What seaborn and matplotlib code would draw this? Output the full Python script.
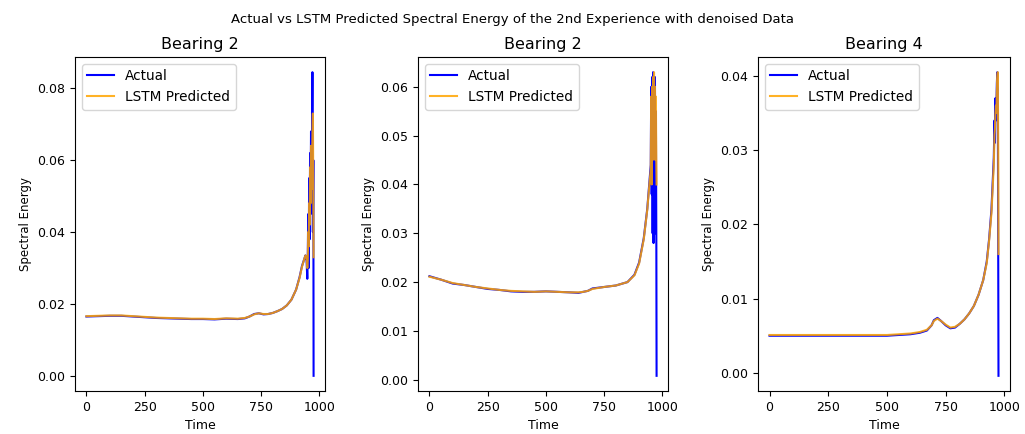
import matplotlib
matplotlib.use("Agg")
import matplotlib.pyplot as plt
import seaborn as sns
import numpy as np

# ---------------- data ----------------
titles = ["Bearing 2", "Bearing 2", "Bearing 4"]
yticks = [[0.00, 0.02, 0.04, 0.06, 0.08],
          [0.00, 0.01, 0.02, 0.03, 0.04, 0.05, 0.06],
          [0.00, 0.01, 0.02, 0.03, 0.04]]
xticks = [0, 250, 500, 750, 1000]

t1 = [0, 50, 100, 150, 200, 250, 300, 350, 400, 450, 500, 550, 600, 650, 680, 700, 720, 740,
      760, 780, 800, 820, 840, 860, 880, 900, 915, 925, 935, 940, 945, 948, 950, 952, 954,
      956, 958, 960, 962, 964, 966, 968, 970, 972, 974, 975]
act1 = [0.0165, 0.0166, 0.0167, 0.0167, 0.0165, 0.0163, 0.0161, 0.0160, 0.0159, 0.0158, 0.0158,
        0.0157, 0.0159, 0.0158, 0.0160, 0.0165, 0.0172, 0.0174, 0.0171, 0.0172, 0.0175, 0.0180,
        0.0186, 0.0196, 0.0212, 0.0240, 0.0275, 0.0305, 0.0325, 0.0335, 0.0320, 0.0270, 0.0330,
        0.0450, 0.0300, 0.0550, 0.0380, 0.0620, 0.0450, 0.0680, 0.0500, 0.0630, 0.0845, 0.0400,
        0.0600, 0.0000]
pred1 = [0.0166, 0.0167, 0.0168, 0.0168, 0.0166, 0.0164, 0.0162, 0.0161, 0.0160, 0.0159, 0.0159,
         0.0158, 0.0160, 0.0159, 0.0161, 0.0165, 0.0171, 0.0174, 0.0172, 0.0172, 0.0175, 0.0180,
         0.0186, 0.0196, 0.0212, 0.0240, 0.0273, 0.0303, 0.0325, 0.0335, 0.0330, 0.0300, 0.0320,
         0.0400, 0.0360, 0.0480, 0.0420, 0.0580, 0.0480, 0.0640, 0.0520, 0.0600, 0.0660, 0.0730,
         0.0500, 0.0330]

t2 = [0, 50, 100, 150, 200, 250, 300, 350, 400, 450, 500, 550, 600, 640, 660, 680, 700, 750,
      800, 850, 880, 900, 920, 935, 945, 950, 952, 954, 956, 958, 960, 962, 964, 966, 968, 970,
      972, 974, 975]
act2 = [0.0212, 0.0205, 0.0197, 0.0194, 0.0190, 0.0186, 0.0184, 0.0181, 0.0180, 0.0180, 0.0181,
        0.0180, 0.0179, 0.0178, 0.0180, 0.0182, 0.0187, 0.0190, 0.0193, 0.0200, 0.0215, 0.0240,
        0.0290, 0.0350, 0.0410, 0.0440, 0.0600, 0.0380, 0.0620, 0.0300, 0.0630, 0.0280, 0.0580,
        0.0350, 0.0620, 0.0300, 0.0550, 0.0280, 0.0008]
pred2 = [0.0211, 0.0205, 0.0198, 0.0194, 0.0190, 0.0187, 0.0184, 0.0182, 0.0181, 0.0180, 0.0181,
         0.0180, 0.0179, 0.0179, 0.0180, 0.0182, 0.0186, 0.0190, 0.0193, 0.0200, 0.0214, 0.0238,
         0.0288, 0.0348, 0.0405, 0.0430, 0.0580, 0.0400, 0.0600, 0.0450, 0.0620, 0.0480, 0.0630,
         0.0500, 0.0600, 0.0450, 0.0580, 0.0440, 0.0400]

t3 = [0, 100, 200, 300, 400, 500, 550, 600, 640, 670, 690, 700, 715, 730, 750, 770, 790, 810,
      830, 850, 870, 890, 910, 925, 935, 945, 955, 958, 960, 962, 964, 966, 968, 970, 972, 974,
      975]
act3 = [0.0050, 0.0050, 0.0050, 0.0050, 0.0050, 0.0050, 0.0051, 0.0052, 0.0054, 0.0057, 0.0064,
        0.0071, 0.0074, 0.0070, 0.0064, 0.0060, 0.0061, 0.0066, 0.0072, 0.0080, 0.0090, 0.0105,
        0.0125, 0.0150, 0.0180, 0.0220, 0.0290, 0.0340, 0.0310, 0.0370, 0.0340, 0.0360, 0.0390,
        0.0405, 0.0380, 0.0140, -0.0004]
pred3 = [0.0051, 0.0051, 0.0051, 0.0051, 0.0051, 0.0051, 0.0052, 0.0053, 0.0055, 0.0058, 0.0064,
         0.0070, 0.0073, 0.0070, 0.0065, 0.0061, 0.0062, 0.0066, 0.0072, 0.0080, 0.0090, 0.0105,
         0.0125, 0.0148, 0.0178, 0.0215, 0.0280, 0.0320, 0.0330, 0.0350, 0.0360, 0.0350, 0.0380,
         0.0395, 0.0405, 0.0300, 0.0160]

times = [t1, t2, t3]
actuals = [act1, act2, act3]
preds = [pred1, pred2, pred3]

# ---------------- plot ----------------
W, H = 1025, 434
fig = plt.figure(figsize=(W / 100, H / 100), dpi=100)
boxes = [(75, 250), (418, 250), (758, 252)]
top, bottom = 57, 391

for i, (left, width) in enumerate(boxes):
    ax = fig.add_axes([left / W, (H - bottom) / H, width / W, (bottom - top) / H])
    sns.lineplot(x=times[i], y=actuals[i], ax=ax, color="blue", linewidth=1.5,
                 label="Actual", estimator=None, sort=False)
    sns.lineplot(x=times[i], y=preds[i], ax=ax, color="orange", linewidth=1.5, alpha=0.85,
                 label="LSTM Predicted", estimator=None, sort=False)
    ax.set_title(titles[i], fontsize=11.5)
    ax.set_xlabel("Time", fontsize=9)
    ax.set_ylabel("Spectral Energy", fontsize=8.5)
    ax.tick_params(labelsize=9)
    ax.set_xticks(xticks)
    ax.set_yticks(yticks[i])
    ax.set_xlim(-49, 1024)
    ax.legend(loc="upper left", fontsize=9.8)

fig.suptitle("Actual vs LSTM Predicted Spectral Energy of the 2nd Experience with denoised Data",
             fontsize=9.5, y=1 - 13 / H)
fig.savefig("out.png", dpi=100)
